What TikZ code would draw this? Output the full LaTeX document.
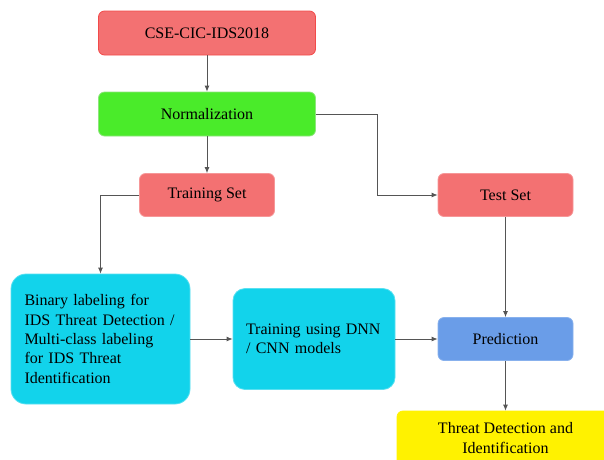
\documentclass[tikz,border=0pt]{standalone}
\usepackage{fontspec}
\setmainfont{Liberation Serif}
\usepackage{tikz}
\usetikzlibrary{positioning,
        shapes,
        arrows.meta}
\usepackage{xcolor}
\definecolor{salmon}{HTML}{F37172}
\definecolor{salmonline}{HTML}{F26A6C}
\definecolor{redline}{HTML}{F24A4A}
\definecolor{limegreen}{HTML}{4AEB2A}
\definecolor{skycyan}{HTML}{12D3EB}
\definecolor{cornblue}{HTML}{6A9DE8}
\definecolor{linegray}{HTML}{555555}

\begin{document}
\begin{tikzpicture}[x=1pt,y=-1pt,
        box/.style={rectangle,rounded corners=6pt,draw,line width=0.8pt,inner sep=0pt,
            font=\fontsize{16}{19.3}\selectfont,minimum height=43pt},
        arr/.style={-{Latex[length=6pt,width=5pt]},draw=linegray,line width=0.8pt}]
            \useasboundingbox (0,0) rectangle (604,459);
            \node [box,fill=salmon,draw=redline,minimum width=217pt,minimum height=44pt] (data) at (207,33) {CSE-CIC-IDS2018};
            \node [box,fill=limegreen,draw=limegreen!90!black!60,minimum width=217pt,minimum height=44pt] (norm) at (207,114) {Normalization};
            \node [box,fill=salmon,draw=salmonline!70!white,minimum width=135pt] (train) at (207,195) {Training Set};
            \node [box,fill=salmon,draw=salmonline!70!white,minimum width=135pt] (test) at (505.5,195) {Test Set};
            \node [box,fill=skycyan,draw=skycyan!70!white,rounded corners=15pt,minimum width=179pt,minimum height=130pt,
                text width=152pt,align=left] (label) at (100.5,339) {Binary labeling for\\IDS Threat Detection /\\Multi-class labeling\\for IDS Threat\\Identification};
            \node [box,fill=skycyan,draw=skycyan!70!white,rounded corners=12pt,minimum width=162pt,minimum height=101pt,
                text width=136pt,align=left] (model) at (314,339) {Training using DNN\\/ CNN models};
            \node [box,fill=cornblue,draw=cornblue!80!white,minimum width=135pt] (pred) at (505.5,339) {Prediction};
            \node [box,fill=yellow,draw=yellow,minimum width=217pt,minimum height=54pt,align=center] (result) at (505.5,438) {Threat Detection and\\Identification};

            \coordinate (turn) at (377,114);
            \draw [arr] (data) -- (norm);
            \draw [arr] (norm) -- (train);
            \draw [arr] (norm.east) -- (turn) |- (test.west);
            \draw [arr] (train.west) -| (label.north);
            \draw [arr] (label.east) -- (model.west);
            \draw [arr] (model.east) -- (pred.west);
            \draw [arr] (test) -- (pred);
            \draw [arr] (pred) -- (result);
        \end{tikzpicture}
\end{document}
